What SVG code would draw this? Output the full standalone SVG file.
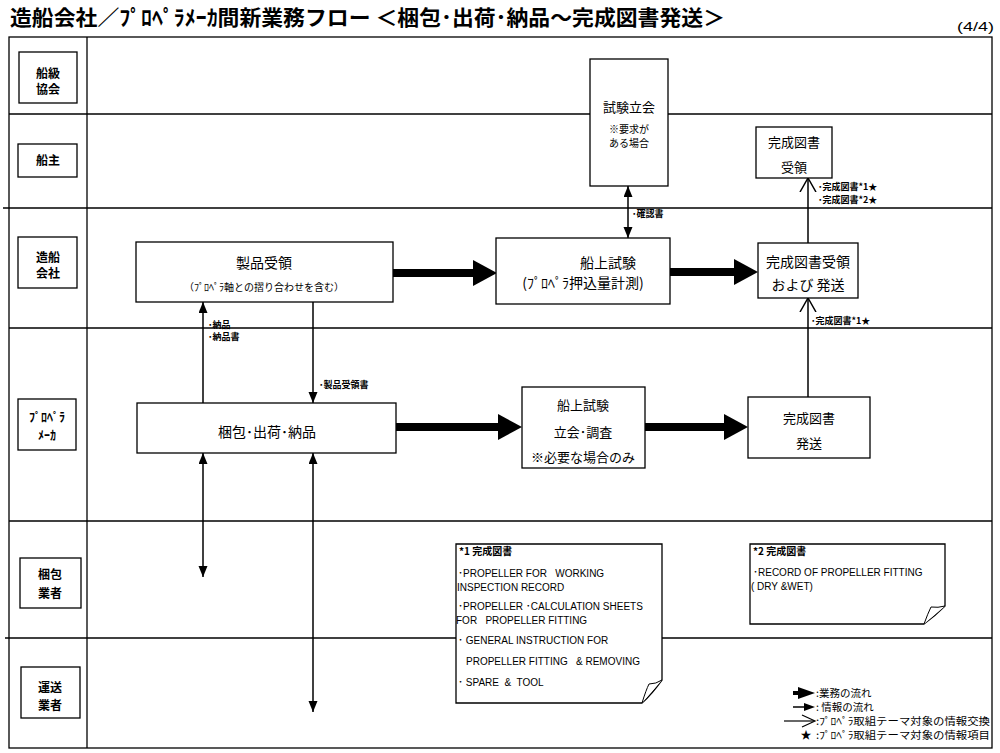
<svg xmlns="http://www.w3.org/2000/svg" width="1000" height="753" viewBox="0 0 1000 753">
<style>
text{font-family:"Liberation Sans","Noto Sans CJK JP",sans-serif;fill:#000}
.jp{font-family:"Noto Sans CJK JP","Liberation Sans",sans-serif}
.lane{font-size:12px;font-weight:bold;text-anchor:middle}
.node{font-size:14px;text-anchor:middle}
.n13{font-size:13px;text-anchor:middle}
.sub{font-size:10px;text-anchor:middle}
.lbl{font-size:9px;font-weight:bold}
.note{font-size:10px}
.box{fill:#fff;stroke:#000;stroke-width:1.3}
.grid{stroke:#000;stroke-width:1.3;fill:none}
.thick{stroke:#000;stroke-width:8;fill:none}
.thin{stroke:#000;stroke-width:1.5;fill:none}
.leg{font-size:10.5px}
</style>
<defs>
<marker id="big" markerUnits="userSpaceOnUse" markerWidth="26" markerHeight="28" refX="4" refY="13" orient="auto"><path d="M0,0 L24,13 L0,26 Z" fill="#000"/></marker>
<marker id="tri" markerUnits="userSpaceOnUse" markerWidth="12" markerHeight="10" refX="11" refY="4.5" orient="auto-start-reverse"><path d="M0,0 L11,4.5 L0,9 Z" fill="#000"/></marker>
<marker id="open" markerUnits="userSpaceOnUse" markerWidth="16" markerHeight="20" refX="14" refY="9" orient="auto"><path d="M0,1 L14,9 L0,17" fill="none" stroke="#000" stroke-width="1.5"/></marker>
</defs>
<rect width="1000" height="753" fill="#fff"/>

<text class="jp" x="10" y="25" font-size="21" font-weight="bold" textLength="715" lengthAdjust="spacingAndGlyphs">造船会社／ﾌﾟﾛﾍﾟﾗﾒｰｶ間新業務フロー ＜梱包･出荷･納品～完成図書発送＞</text>
<text x="957" y="31" font-size="13" textLength="37" lengthAdjust="spacingAndGlyphs">(4/4)</text>

<g id="frame">
<rect x="9" y="37" width="983" height="711" class="grid"/>
<line x1="87" y1="37" x2="87" y2="748" class="grid"/>
<line x1="9" y1="114" x2="992" y2="114" class="grid"/>
<line x1="3" y1="208" x2="992" y2="208" class="grid"/>
<line x1="9" y1="328" x2="992" y2="328" class="grid"/>
<line x1="9" y1="521" x2="992" y2="521" class="grid"/>
<line x1="5" y1="638" x2="992" y2="638" class="grid"/>
</g>

<g id="lane-classification">
<rect x="19" y="52" width="58" height="51" class="box"/>
<text class="lane jp" x="48" y="78">船級</text>
<text class="lane jp" x="48" y="94">協会</text>
</g>
<g id="lane-owner">
<rect x="18" y="144" width="59" height="33" class="box"/>
<text class="lane jp" x="48" y="165">船主</text>
</g>
<g id="lane-shipyard">
<rect x="18" y="237" width="59" height="51" class="box"/>
<text class="lane jp" x="48" y="262">造船</text>
<text class="lane jp" x="48" y="278">会社</text>
</g>
<g id="lane-maker">
<rect x="18" y="399" width="58" height="51" class="box"/>
<text class="lane jp" x="47" y="422">ﾌﾟﾛﾍﾟﾗ</text>
<text class="lane jp" x="47" y="440">ﾒｰｶ</text>
</g>
<g id="lane-packing">
<rect x="20" y="558" width="61" height="50" class="box"/>
<text class="lane jp" x="50" y="579">梱包</text>
<text class="lane jp" x="50" y="598">業者</text>
</g>
<g id="lane-transport">
<rect x="21" y="667" width="59" height="51" class="box"/>
<text class="lane jp" x="50" y="692">運送</text>
<text class="lane jp" x="50" y="710">業者</text>
</g>

<g id="connectors">
<line x1="393" y1="273" x2="477" y2="273" class="thick" marker-end="url(#big)"/>
<line x1="670" y1="272" x2="738" y2="272" class="thick" marker-end="url(#big)"/>
<line x1="396" y1="427" x2="502" y2="427" class="thick" marker-end="url(#big)"/>
<line x1="645" y1="427" x2="728" y2="427" class="thick" marker-end="url(#big)"/>
<line x1="203" y1="403" x2="203" y2="302" class="thin" marker-end="url(#tri)"/>
<line x1="313" y1="302" x2="313" y2="403" class="thin" marker-end="url(#tri)"/>
<line x1="628" y1="186" x2="628" y2="238" class="thin" marker-start="url(#tri)" marker-end="url(#tri)"/>
<line x1="808" y1="243" x2="808" y2="178" class="thin" marker-end="url(#open)"/>
<line x1="808" y1="397" x2="808" y2="298" class="thin" marker-end="url(#open)"/>
<line x1="203" y1="453" x2="203" y2="577" class="thin" marker-start="url(#tri)" marker-end="url(#tri)"/>
<line x1="313" y1="453" x2="313" y2="712" class="thin" marker-start="url(#tri)" marker-end="url(#tri)"/>
<text class="lbl jp" x="632" y="217">･確認書</text>
<text class="lbl jp" x="818" y="190">･完成図書*1★</text>
<text class="lbl jp" x="818" y="203">･完成図書*2★</text>
<text class="lbl jp" x="811" y="324">･完成図書*1★</text>
<text class="lbl jp" x="208" y="328">･納品</text>
<text class="lbl jp" x="208" y="340">･納品書</text>
<text class="lbl jp" x="319" y="388">･製品受領書</text>
</g>

<g id="node-witness">
<rect x="590" y="59" width="78" height="127" class="box"/>
<text class="n13 jp" x="629" y="112">試験立会</text>
<text class="sub jp" x="629" y="133">※要求が</text>
<text class="sub jp" x="629" y="147">ある場合</text>
</g>
<g id="node-owner-receive">
<rect x="756" y="127" width="76" height="51" class="box"/>
<text class="n13 jp" x="794" y="147">完成図書</text>
<text class="n13 jp" x="794" y="172">受領</text>
</g>
<g id="node-product-receive">
<rect x="136" y="242" width="257" height="60" class="box"/>
<text class="node jp" x="264" y="268">製品受領</text>
<text class="sub jp" x="264" y="291">（ﾌﾟﾛﾍﾟﾗ軸との摺り合わせを含む）</text>
</g>
<g id="node-sea-trial">
<rect x="496" y="238" width="174" height="66" class="box"/>
<text class="node jp" x="608" y="268">船上試験</text>
<text class="node jp" x="583" y="288">(ﾌﾟﾛﾍﾟﾗ押込量計測)</text>
</g>
<g id="node-doc-receive-send">
<rect x="758" y="243" width="100" height="55" class="box"/>
<text class="node jp" x="808" y="267">完成図書受領</text>
<text class="node jp" x="808" y="290">および 発送</text>
</g>
<g id="node-packing">
<rect x="137" y="403" width="259" height="50" class="box"/>
<text class="node jp" x="267" y="437">梱包･出荷･納品</text>
</g>
<g id="node-trial-attend">
<rect x="522" y="387" width="123" height="81" class="box"/>
<text class="n13 jp" x="583" y="410">船上試験</text>
<text class="n13 jp" x="583" y="437">立会･調査</text>
<text class="n13 jp" x="583" y="462">※必要な場合のみ</text>
</g>
<g id="node-doc-send">
<rect x="748" y="397" width="122" height="61" class="box"/>
<text class="n13 jp" x="809" y="423">完成図書</text>
<text class="n13 jp" x="809" y="448">発送</text>
</g>

<g id="note1">
<path d="M456,544 H662 V680 Q652,694 642,703 H456 Z" class="box"/>
<path d="M642,703 Q646,690 649,684 Q656,684 662,680" fill="#fff" stroke="#000" stroke-width="1"/>
<text class="note jp" x="459" y="555" font-weight="bold">*1 完成図書</text>
<text class="note" x="458" y="577" xml:space="preserve">･PROPELLER FOR   WORKING</text>
<text class="note" x="457" y="591">INSPECTION RECORD</text>
<text class="note" x="458" y="610">･PROPELLER ･CALCULATION SHEETS</text>
<text class="note" x="456" y="624" xml:space="preserve">FOR   PROPELLER FITTING</text>
<text class="note" x="458" y="644" xml:space="preserve">･ GENERAL INSTRUCTION FOR</text>
<text class="note" x="466" y="665" xml:space="preserve">PROPELLER FITTING   &amp; REMOVING</text>
<text class="note" x="458" y="686" xml:space="preserve">･ SPARE  &amp;  TOOL</text>
</g>
<g id="note2">
<path d="M750,544 H945 V606 Q935,616 924,624 H750 Z" class="box"/>
<path d="M924,624 Q928,613 931,607 Q938,608 945,606" fill="#fff" stroke="#000" stroke-width="1"/>
<text class="note jp" x="753" y="555" font-weight="bold">*2 完成図書</text>
<text class="note" x="753" y="576">･RECORD OF PROPELLER FITTING</text>
<text class="note" x="751" y="590" xml:space="preserve">( DRY &amp;WET)</text>
</g>

<g id="legend">
<line x1="793" y1="693" x2="800" y2="693" stroke="#000" stroke-width="4"/>
<path d="M798,687 L815,693 L798,699 Z" fill="#000"/>
<line x1="793" y1="707" x2="806" y2="707" stroke="#000" stroke-width="1.5"/>
<path d="M804,703 L815,707 L804,711 Z" fill="#000"/>
<line x1="784" y1="721" x2="814" y2="721" stroke="#000" stroke-width="1.2"/>
<path d="M802,715 L815,721 L802,727" fill="none" stroke="#000" stroke-width="1.2"/>
<text x="806" y="739" font-size="11" text-anchor="middle" class="jp">★</text>
<text class="leg jp" x="816" y="697">:業務の流れ</text>
<text class="leg jp" x="816" y="711">: 情報の流れ</text>
<text class="leg jp" x="816" y="725" textLength="174" lengthAdjust="spacingAndGlyphs">:ﾌﾟﾛﾍﾟﾗ取組テーマ対象の情報交換</text>
<text class="leg jp" x="816" y="739" textLength="174" lengthAdjust="spacingAndGlyphs">:ﾌﾟﾛﾍﾟﾗ取組テーマ対象の情報項目</text>
</g>
</svg>
